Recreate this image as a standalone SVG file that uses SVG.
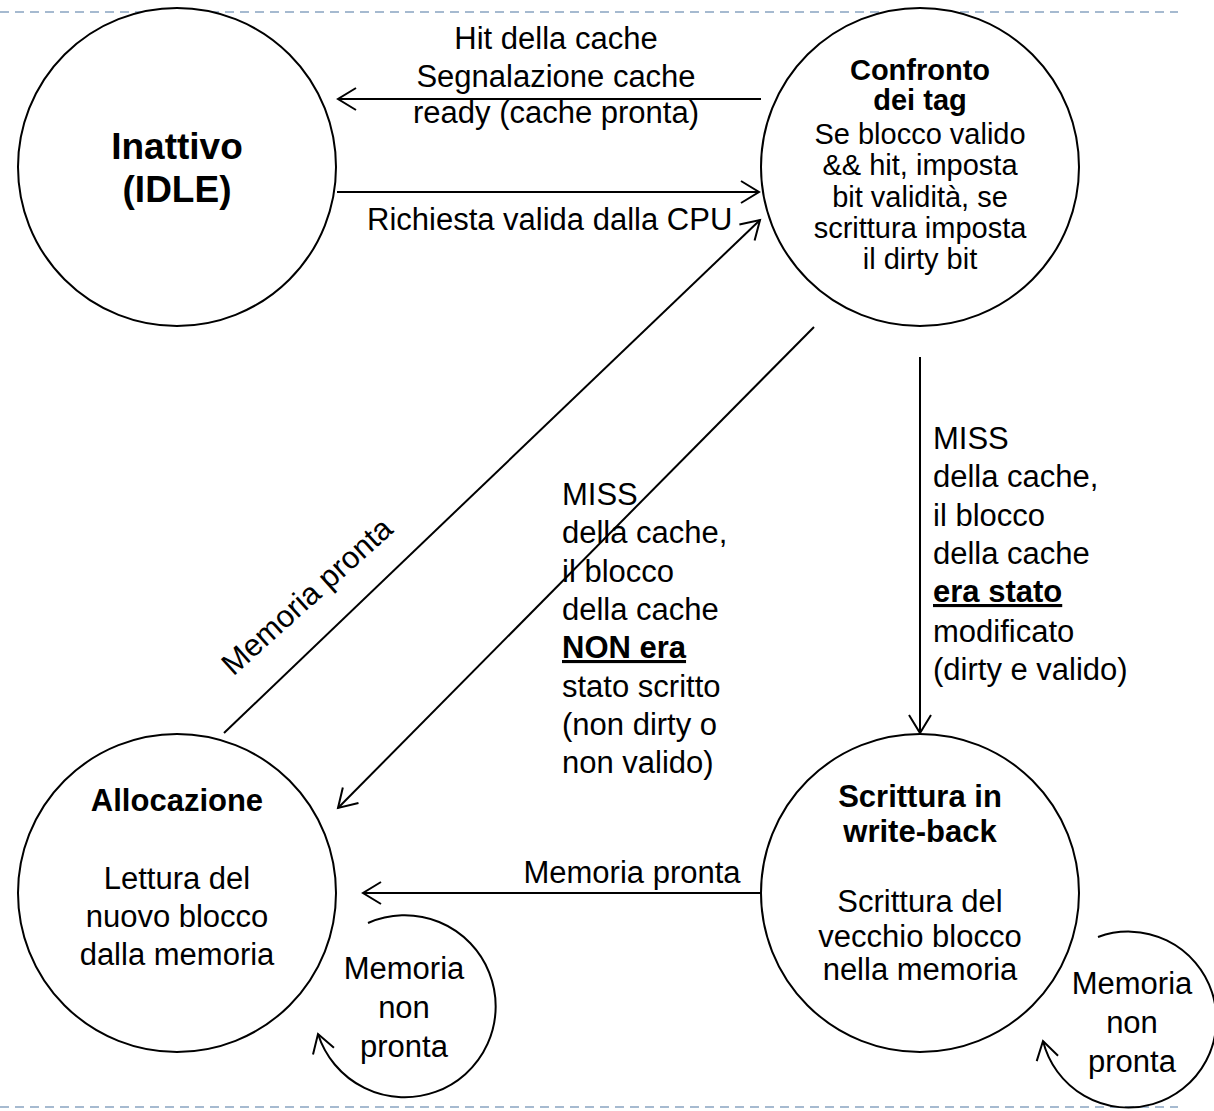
<svg xmlns="http://www.w3.org/2000/svg" width="1214" height="1111" viewBox="0 0 1214 1111">
<style>
.st{fill:#fff;stroke:#000;stroke-width:2}
.t{font-family:"Liberation Sans",Arial,Helvetica,sans-serif;font-size:31px;fill:#000}
.s29{font-size:29px}
.s37{font-size:37px}
.b{font-weight:bold}
.c{text-anchor:middle}
.u{text-decoration:underline}
.edge{fill:none;stroke:#000;stroke-width:2;marker-end:url(#arr)}
.dash{fill:none;stroke:#a6bad0;stroke-width:2;stroke-dasharray:9 6}
</style>
<defs>
<marker id="arr" markerUnits="userSpaceOnUse" markerWidth="24" markerHeight="24" refX="0" refY="0" orient="auto" overflow="visible">
<path d="M-18,-11 L0,0 L-18,11" fill="none" stroke="#000" stroke-width="2"/>
</marker>
</defs>
<rect width="1214" height="1111" fill="#fff"/>
<g id="frame">
<line class="dash" x1="0" y1="12" x2="1178" y2="12"/>
<line class="dash" x1="0" y1="1107" x2="1178" y2="1107"/>
</g>
<g id="connectors">
<line class="edge" x1="761" y1="99" x2="338" y2="99"/>
<line class="edge" x1="337" y1="192" x2="759" y2="192"/>
<line class="edge" x1="224" y1="733" x2="760" y2="220"/>
<line class="edge" x1="814" y1="327" x2="338" y2="808"/>
<line class="edge" x1="920" y1="357" x2="920" y2="733"/>
<line class="edge" x1="761" y1="893" x2="363" y2="893"/>
<path class="edge" d="M368,923 A91,91 0 1 1 318,1034"/>
<path class="edge" d="M1098,937 A88,88 0 1 1 1043,1041"/>
<text class="t c" x="556" y="49">Hit della cache</text>
<text class="t c" x="556" y="87">Segnalazione cache</text>
<text class="t c" x="556" y="123">ready (cache pronta)</text>
<text class="t" x="367" y="230">Richiesta valida dalla CPU</text>
<text class="t c" x="314" y="604" transform="rotate(-42 314 604)">Memoria pronta</text>
<text class="t" x="562"><tspan x="562" y="505">MISS</tspan><tspan x="562" y="543">della cache,</tspan><tspan x="562" y="582">il blocco</tspan><tspan x="562" y="620">della cache</tspan><tspan x="562" y="658" class="b u">NON era</tspan><tspan x="562" y="697">stato scritto</tspan><tspan x="562" y="735">(non dirty o</tspan><tspan x="562" y="773">non valido)</tspan></text>
<text class="t" x="933"><tspan x="933" y="449">MISS</tspan><tspan x="933" y="487">della cache,</tspan><tspan x="933" y="526">il blocco</tspan><tspan x="933" y="564">della cache</tspan><tspan x="933" y="602" class="b u">era stato</tspan><tspan x="933" y="642">modificato</tspan><tspan x="933" y="680">(dirty e valido)</tspan></text>
<text class="t c" x="632" y="883">Memoria pronta</text>
<text class="t c"><tspan x="404" y="979">Memoria</tspan><tspan x="404" y="1018">non</tspan><tspan x="404" y="1057">pronta</tspan></text>
<text class="t c"><tspan x="1132" y="994">Memoria</tspan><tspan x="1132" y="1033">non</tspan><tspan x="1132" y="1072">pronta</tspan></text>
</g>
<g id="idle">
<circle class="st" cx="177" cy="167" r="159"/>
<text class="t s37 b c"><tspan x="177" y="159">Inattivo</tspan><tspan x="177" y="202">(IDLE)</tspan></text>
</g>
<g id="compare-tag">
<circle class="st" cx="920" cy="167" r="159"/>
<text class="t s29 c"><tspan class="b" x="920" y="80">Confronto</tspan><tspan class="b" x="920" y="110">dei tag</tspan><tspan x="920" y="144">Se blocco valido</tspan><tspan x="920" y="175">&amp;&amp; hit, imposta</tspan><tspan x="920" y="207">bit validità, se</tspan><tspan x="920" y="238">scrittura imposta</tspan><tspan x="920" y="269">il dirty bit</tspan></text>
</g>
<g id="allocate">
<circle class="st" cx="177" cy="893" r="159"/>
<text class="t c"><tspan class="b" x="177" y="811">Allocazione</tspan><tspan x="177" y="889">Lettura del</tspan><tspan x="177" y="927">nuovo blocco</tspan><tspan x="177" y="965">dalla memoria</tspan></text>
</g>
<g id="write-back">
<circle class="st" cx="920" cy="893" r="159"/>
<text class="t c"><tspan class="b" x="920" y="807">Scrittura in</tspan><tspan class="b" x="920" y="842">write-back</tspan><tspan x="920" y="912">Scrittura del</tspan><tspan x="920" y="947">vecchio blocco</tspan><tspan x="920" y="980">nella memoria</tspan></text>
</g>
</svg>
